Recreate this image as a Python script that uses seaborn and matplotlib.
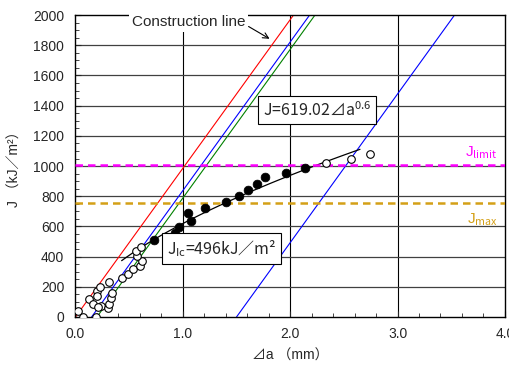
import numpy as np
import pandas as pd
import matplotlib.pyplot as plt
import seaborn as sns
from matplotlib.ticker import MultipleLocator, FormatStrFormatter

# invalid (open) data points
open_da = [0.02, 0.07, 0.19, 0.13, 0.16, 0.20, 0.23, 0.20, 0.24, 0.21, 0.30, 0.31,
           0.33, 0.34, 0.31, 0.43, 0.49, 0.54, 0.60, 0.62, 0.575, 0.56, 0.61,
           2.33, 2.57, 2.74]
open_j = [40, 0, 0, 119, 84, 172, 201, 139, 73, 66, 57, 86,
          124, 157, 230, 256, 283, 316, 338, 373, 404, 439, 466,
          1018, 1044, 1077]
# valid (filled) data points
valid_da = [0.73, 0.93, 0.965, 1.05, 1.08, 1.21, 1.40, 1.52, 1.61, 1.69, 1.77, 1.96, 2.14]
valid_j = [510, 556, 594, 686, 636, 724, 760, 803, 841, 883, 925, 956, 989]

# construction / offset lines
slope = 985
offsets = [0.0, 0.15, 0.2, 1.5]
line_colors = ["red", "blue", "green", "blue"]

fit_c, fit_n = 619.02, 0.6
fit_range = [0.43, 2.65]
j_limit = 1010
j_max = 752

sns.set_style("white")
plt.rcParams["font.family"] = ["Liberation Sans", "Noto Sans CJK JP"]
plt.rcParams["mathtext.fontset"] = "custom"
plt.rcParams["mathtext.rm"] = "Noto Sans CJK JP"
plt.rcParams["mathtext.it"] = "Noto Sans CJK JP"
jp = "Noto Sans CJK JP"

fig = plt.figure(figsize=(5.1, 3.69), dpi=100)
ax = fig.add_axes([0.148, 0.141, 0.842, 0.818])

for v in [1, 2, 3]:
    ax.axvline(v, color="black", lw=0.8, zorder=0)
for h in range(200, 2000, 200):
    ax.axhline(h, color="#404040", lw=0.9, zorder=0)

for off, c in zip(offsets, line_colors):
    xs = np.array([off, off + 2100 / slope])
    sns.lineplot(x=xs, y=slope * (xs - off), color=c, lw=0.8, ax=ax, zorder=2)

xf = np.linspace(fit_range[0], fit_range[1], 50)
sns.lineplot(x=xf, y=fit_c * xf ** fit_n, color="black", lw=0.9, ax=ax, zorder=2)

ax.axhline(j_limit, color="#ff00ff", lw=1.8, ls=(0, (3, 2)), zorder=3)
ax.axhline(j_max, color="#d4a017", lw=1.8, ls=(0, (3, 2)), zorder=3)

sns.scatterplot(x=open_da, y=open_j, marker="o", s=30, facecolor="white",
                edgecolor="black", linewidth=0.8, ax=ax, zorder=4)
sns.scatterplot(x=valid_da, y=valid_j, marker="o", s=40, color="black",
                edgecolor="black", ax=ax, zorder=4)

ax.set_xlim(0, 4)
ax.set_ylim(0, 2000)
ax.xaxis.set_major_locator(MultipleLocator(1.0))
ax.xaxis.set_major_formatter(FormatStrFormatter("%.1f"))
ax.xaxis.set_minor_locator(MultipleLocator(0.2))
ax.yaxis.set_major_locator(MultipleLocator(200))
ax.yaxis.set_minor_locator(MultipleLocator(50))
ax.tick_params(which="both", direction="in", bottom=True, left=True, labelsize=10)
ax.tick_params(axis="y", which="major", length=4, pad=8)
ax.tick_params(axis="x", which="major", length=4, pad=7)
ax.tick_params(which="minor", length=3)
for s in ax.spines.values():
    s.set_color("black")
    s.set_linewidth(1.0)

ax.set_xlabel("⊿a （mm）", fontsize=10, labelpad=6)
ax.set_ylabel("J （kJ／m²）", fontsize=10, labelpad=8)

ax.text(1.58, 1953, "Construction line", fontsize=11, ha="right", va="center",
        bbox=dict(facecolor="white", edgecolor="none", pad=2), zorder=5)
ax.annotate("", xy=(1.83, 1834), xytext=(1.59, 1934),
            arrowprops=dict(arrowstyle="->", color="black", lw=0.8), zorder=5)
ax.text(2.247, 1371, "J=619.02⊿a$^{0.6}$", family=jp, fontsize=11.5, ha="center", va="center",
        bbox=dict(facecolor="white", edgecolor="black", pad=3.5, lw=0.8), zorder=5)
ax.text(1.363, 454, "J$_{\\rm Ic}$=496kJ／m²", family=jp, fontsize=11.5, ha="center", va="center",
        bbox=dict(facecolor="white", edgecolor="black", pad=3.5, lw=0.8), zorder=5)
ax.text(3.93, 1086, "J$_{\\rm limit}$", color="#ff00ff", fontsize=11, ha="right", va="center")
ax.text(3.93, 642, "J$_{\\rm max}$", color="#d4a017", fontsize=11, ha="right", va="center")

fig.savefig("out.png", dpi=100)
